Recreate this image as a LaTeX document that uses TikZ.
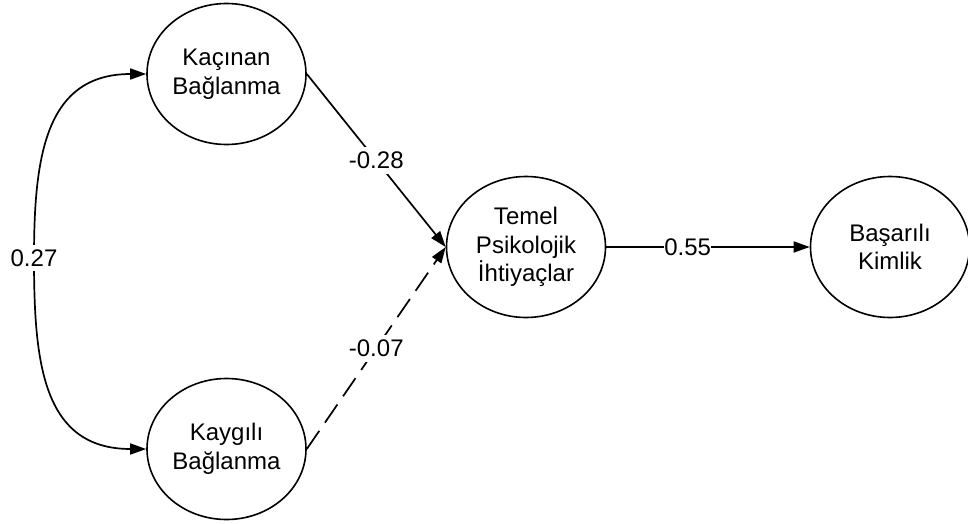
\documentclass[tikz,border=0pt]{standalone}
\usepackage{fontspec}
\setmainfont{Liberation Sans}
\usetikzlibrary{shapes.geometric,arrows.meta}
\begin{document}
\begin{tikzpicture}[x=1pt,y=-1pt,
  latent/.style={ellipse,draw,line width=1.6pt,minimum width=159pt,minimum height=141pt,inner sep=0pt,align=center,font=\fontsize{24}{28.5}\selectfont},
  path/.style={line width=1.7pt,-{Triangle[length=16pt,width=11pt]}},
  dashpath/.style={path,dash pattern=on 22pt off 10pt},
  coef/.style={fill=white,inner xsep=2pt,inner ysep=5pt,font=\fontsize{24}{28.5}\selectfont}]
\useasboundingbox (0,0) rectangle (968,524);
\node[latent] (K) at (226.5,74) {Kaçınan\\Bağlanma};
\node[latent] (G) at (226.5,449) {Kaygılı\\Bağlanma};
\node[latent] (T) at (526,247) {Temel\\Psikolojik\\İhtiyaçlar};
\node[latent] (B) at (890,247) {Başarılı\\Kimlik};
\coordinate (C) at (34,258);
\draw[line width=1.7pt,{Triangle[length=16pt,width=11pt]}-{Triangle[length=16pt,width=11pt]}]
  (K.west) to[out=180,in=90,looseness=1.2] (C) to[out=-90,in=180,looseness=1.2] (G.west);
\node[coef] (l27) at (C) {0.27};
\draw[path] (K.east) -- node[coef] {-0.28} (T.west);
\draw[dashpath] (G.east) -- node[coef] {-0.07} (T.west);
\draw[path] (T.east) -- node[coef,pos=0.4,inner sep=0pt] {0.55} (B.west);
\end{tikzpicture}
\end{document}
